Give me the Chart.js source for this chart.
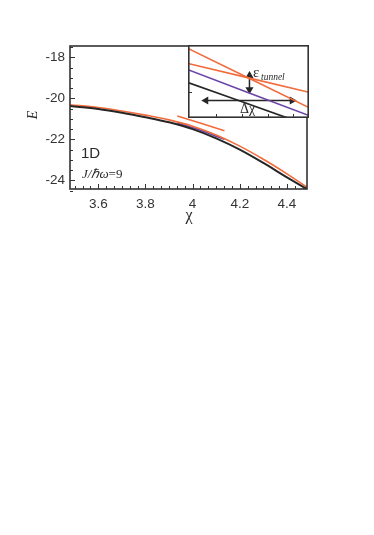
<!DOCTYPE html>
<html>
<head>
<meta charset="utf-8">
<script src="https://cdn.jsdelivr.net/npm/chart.js@4.4.1/dist/chart.umd.min.js"></script>
<style>
  html, body { margin: 0; padding: 0; background: #fff; }
  #wrap { position: relative; width: 374px; height: 535px; }
  #insetBox { position: absolute; left: 188px; top: 45px; width: 121px; height: 73px; }
</style>
</head>
<body>
<div id="wrap">
  <canvas id="mainChart"></canvas>
  <div id="insetBox"><canvas id="insetChart"></canvas></div>
</div>
<script>
// главный график: энергия против χ
const chiGrid = [3.48, 3.6, 3.7, 3.8, 3.9, 4.0, 4.1, 4.2, 4.3, 4.4, 4.485];
const blackE  = [-20.38, -20.52, -20.70, -20.92, -21.17, -21.50, -21.95, -22.50, -23.15, -23.85, -24.42];
const orangeE = [-20.31, -20.45, -20.62, -20.82, -21.05, -21.36, -21.79, -22.33, -22.97, -23.68, -24.33];
const purpleChi = [3.935, 4.03, 4.135];
const purpleE   = [-21.20, -21.55, -22.00];
const crossChi = [3.935, 4.135];
const crossE   = [-20.86, -21.58];

const chiTicks = [3.6, 3.8, 4, 4.2, 4.4];
const eTicks = [-24, -22, -20, -18];

// врезка (условные единицы 0..10)
const inOrange1 = [[0, 9.53], [10, 1.43]];
const inOrange2 = [[0, 7.47], [10, 3.53]];
const inPurple  = [[0, 6.61], [10, 0.33]];
const inBlack   = [[0, 4.86], [8.25, 0]];
const arrowV = [[5.08, 5.81], [5.08, 3.9]];
const arrowH = [[1.48, 2.39], [8.6, 2.39]];
const inXTicks = [2.3, 4.45, 6.6, 8.7];
const inYTicks = [3.53];

const ORANGE = '#f26b3c', PURPLE = '#6a45a6', BLACK = '#262626', AXIS = '#333';
const SANS = '"Liberation Sans", Arial, sans-serif';
const SERIF = '"Liberation Serif", "Times New Roman", serif';

const pts = (xs, ys) => xs.map((x, i) => ({x: x, y: ys[i]}));
const pairs = arr => arr.map(p => ({x: p[0], y: p[1]}));

function tickLine(ctx, x1, y1, x2, y2) {
  ctx.beginPath();
  ctx.moveTo(x1, y1);
  ctx.lineTo(x2, y2);
  ctx.stroke();
}

// рамка и внутренние засечки
const frameTicks = {
  id: 'frameTicks',
  afterDraw(chart) {
    const {ctx, chartArea: a, scales} = chart;
    ctx.save();
    ctx.strokeStyle = AXIS;
    ctx.lineWidth = 1;
    for (let v = 3.5; v < 4.49; v += 0.2 / 6) {
      const p = Math.round(scales.x.getPixelForValue(v)) + 0.5;
      tickLine(ctx, p, a.bottom, p, a.bottom - 3);
    }
    chiTicks.forEach(v => {
      const p = Math.round(scales.x.getPixelForValue(v)) + 0.5;
      tickLine(ctx, p, a.bottom, p, a.bottom - 5);
    });
    for (let v = -24.5; v <= -17.5; v += 0.5) {
      const p = Math.round(scales.y.getPixelForValue(v)) + 0.5;
      tickLine(ctx, a.left, p, a.left + 3, p);
    }
    eTicks.forEach(v => {
      const p = Math.round(scales.y.getPixelForValue(v)) + 0.5;
      tickLine(ctx, a.left, p, a.left + 5, p);
    });
    ctx.lineWidth = 1.6;
    ctx.strokeRect(a.left, a.top, a.right - a.left, a.bottom - a.top);

    // подписи
    ctx.fillStyle = '#2a2a2a';
    ctx.textBaseline = 'alphabetic';
    ctx.textAlign = 'left';
    ctx.font = '15px ' + SANS;
    ctx.fillText('1D', 81, 158);
    ctx.font = 'italic 13px ' + SERIF;
    ctx.fillText('J/ℏω', 82, 178);
    const w = ctx.measureText('J/ℏω').width;
    ctx.font = '13px ' + SERIF;
    ctx.fillText('=9', 82 + w, 178);

    ctx.textAlign = 'center';
    ctx.font = '16px ' + SERIF;
    ctx.fillText('χ', 189, 220);

    ctx.save();
    ctx.translate(37, 115);
    ctx.rotate(-Math.PI / 2);
    ctx.font = 'italic 14px ' + SERIF;
    ctx.fillText('E', 0, 0);
    ctx.restore();
    ctx.restore();
  }
};

const line = (data, color, width) => ({
  data: data, borderColor: color, borderWidth: width,
  pointRadius: 0, fill: false, tension: 0.35
});

new Chart(document.getElementById('mainChart'), {
  type: 'line',
  data: {
    datasets: [
      line(pts(chiGrid, blackE), BLACK, 2),
      line(pts(chiGrid, orangeE), ORANGE, 1.6),
      line(pts(purpleChi, purpleE), PURPLE, 1.6),
      line(pts(crossChi, crossE), ORANGE, 1.6)
    ]
  },
  options: {
    responsive: true,
    maintainAspectRatio: false,
    animation: false,
    layout: { autoPadding: false, padding: { left: 0, top: 46, right: 67, bottom: 0 } },
    plugins: { legend: { display: false }, tooltip: { enabled: false } },
    scales: {
      x: {
        type: 'linear', min: 3.48, max: 4.485,
        afterFit: s => { s.height = 346; },
        afterBuildTicks: s => { s.ticks = chiTicks.map(v => ({value: v})); },
        grid: { display: false, drawTicks: false },
        border: { display: false },
        ticks: { padding: 7, color: '#333', font: { family: SANS, size: 13.5 }, callback: v => String(v), maxRotation: 0 }
      },
      y: {
        type: 'linear', min: -24.42, max: -17.45,
        afterFit: s => { s.width = 70; },
        afterBuildTicks: s => { s.ticks = eTicks.map(v => ({value: v})); },
        grid: { display: false, drawTicks: false },
        border: { display: false },
        ticks: { padding: 5, color: '#333', font: { family: SANS, size: 13.5 }, callback: v => String(v) }
      }
    }
  },
  plugins: [frameTicks]
});

// врезка
const insetFrame = {
  id: 'insetFrame',
  beforeDraw(chart) {
    const {ctx, width, height} = chart;
    ctx.save();
    ctx.fillStyle = '#fff';
    ctx.fillRect(0, 0, width, height);
    ctx.restore();
  },
  afterDraw(chart) {
    const {ctx, chartArea: a, scales} = chart;
    ctx.save();
    ctx.strokeStyle = AXIS;
    ctx.lineWidth = 1;
    inXTicks.forEach(v => {
      const p = Math.round(scales.x.getPixelForValue(v)) + 0.5;
      tickLine(ctx, p, a.bottom, p, a.bottom - 4);
    });
    inYTicks.forEach(v => {
      const p = Math.round(scales.y.getPixelForValue(v)) + 0.5;
      tickLine(ctx, a.left, p, a.left + 4, p);
    });
    ctx.lineWidth = 1.6;
    ctx.strokeRect(a.left + 0.8, a.top + 0.8, a.right - a.left - 1.6, a.bottom - a.top - 1.6);

    ctx.fillStyle = '#2a2a2a';
    ctx.textAlign = 'left';
    ctx.font = '15px ' + SERIF;
    ctx.fillText('ε', 65, 32);
    ctx.font = 'italic 9.5px ' + SERIF;
    ctx.fillText('tunnel', 73, 35);
    ctx.font = '14px ' + SERIF;
    ctx.fillText('Δχ', 52, 68);
    ctx.restore();
  }
};

const arrow = (data, rots) => ({
  data: data, borderColor: BLACK, backgroundColor: BLACK, borderWidth: 1.5,
  pointStyle: 'triangle', pointRadius: 3.2, pointRotation: rots,
  fill: false, tension: 0
});

new Chart(document.getElementById('insetChart'), {
  type: 'line',
  data: {
    datasets: [
      line(pairs(inOrange1), ORANGE, 1.6),
      line(pairs(inOrange2), ORANGE, 1.6),
      line(pairs(inPurple), PURPLE, 1.6),
      line(pairs(inBlack), BLACK, 1.8),
      arrow(pairs(arrowV), [0, 180]),
      arrow(pairs(arrowH), [270, 90])
    ]
  },
  options: {
    responsive: true,
    maintainAspectRatio: false,
    animation: false,
    layout: { autoPadding: false, padding: 0 },
    plugins: { legend: { display: false }, tooltip: { enabled: false } },
    scales: {
      x: { type: 'linear', min: 0, max: 10, display: false },
      y: { type: 'linear', min: 0, max: 10, display: false }
    }
  },
  plugins: [insetFrame]
});
</script>
</body>
</html>
